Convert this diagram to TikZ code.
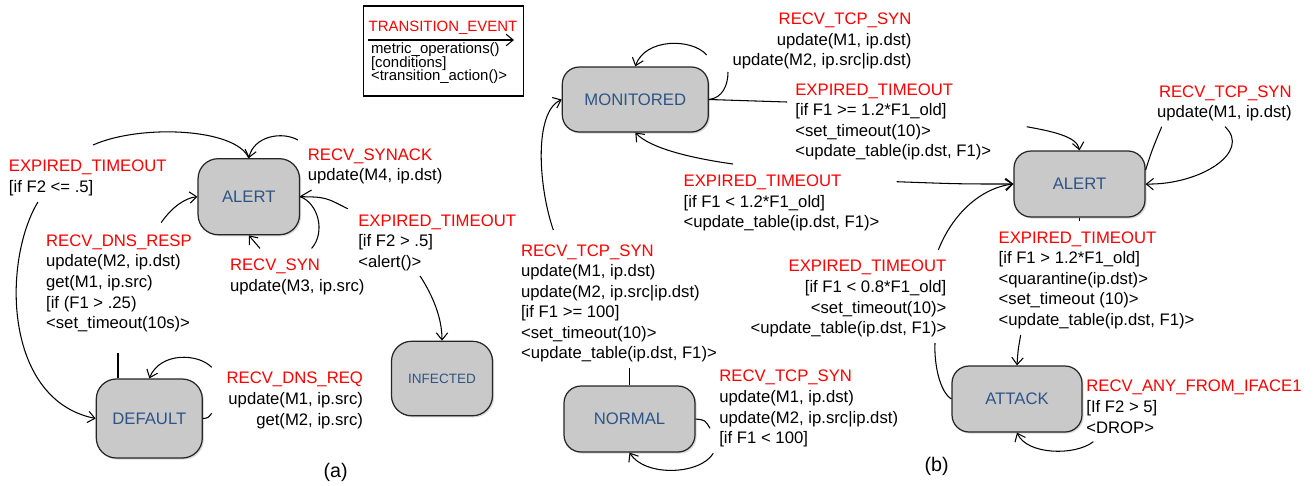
\documentclass[tikz,border=0pt]{standalone}
\usepackage{fontspec}
\setmainfont{Liberation Sans}
\usetikzlibrary{arrows.meta,shadows,calc}
\definecolor{evred}{RGB}{255,0,0}
\definecolor{stateblue}{RGB}{46,84,135}
\definecolor{statefill}{RGB}{201,201,201}
\newcommand{\ev}[1]{\textcolor{evred}{#1}}
\newcommand{\lblfont}{\fontsize{9.5}{11.7}\selectfont}
\newcommand{\lgdfont}{\fontsize{8.5}{7.8}\selectfont\lineskiplimit=-6pt}
\begin{document}
\begin{tikzpicture}[x=0.02cm, y=-0.02cm,
  >={Straight Barb[length=4pt,width=6.5pt]},
  conn/.style={line width=0.6pt},
  state/.style={draw=black!85, line width=0.7pt, fill=statefill, text=stateblue,
    font=\fontsize{9.5}{11}\selectfont, inner sep=0pt,
    drop shadow={shadow xshift=0.9pt, shadow yshift=-0.9pt, opacity=0.3}},
  statea/.style={state, rounded corners=0.4cm, minimum width=2.03cm, minimum height=1.52cm},
  stateb/.style={state, rounded corners=0.34cm, minimum width=2.62cm, minimum height=1.32cm},
  % multi-line labels are placed by the baseline of their last line
  lbl/.style={font=\lblfont, inner sep=0pt, align=left, anchor=base west},
  lblr/.style={font=\lblfont, inner sep=0pt, align=right, anchor=base east},
  lgd/.style={font=\lgdfont, inner sep=0pt, align=left, anchor=base west},
  caption/.style={font=\fontsize{11.2}{13}\selectfont, inner sep=0pt, anchor=base}]

\fill[white, use as bounding box] (0,0) rectangle (1315,485);

% ---------- legend ----------
\node[draw, line width=0.6pt, minimum width=3.2cm, minimum height=1.8cm, inner sep=0pt] (legend) at (443.3,51) {};
\node[lgd] (lgev) at (368.3,31.7) {\ev{TRANSITION\_EVENT}};
\coordinate (lgA) at (368.3,40);
\coordinate (lgB) at (514,40);
\draw[conn,->] (lgA) -- (lgB);
\node[lgd] (lgtxt) at (370.7,80.8) {metric\_operations()\\{}[conditions]\\<transition\_action()>};

% ---------- (a) states ----------
\node[statea] (alertA) at (248.8,196.7) {ALERT};
\node[statea, minimum width=2.12cm, minimum height=1.58cm] (default) at (149.3,418.5) {DEFAULT};
\node[statea, minimum width=2.02cm, minimum height=1.49cm, font=\fontsize{7.7}{9}\selectfont] (infected) at (442,378.5) {INFECTED};

% ---------- (b) states ----------
\node[stateb, minimum width=2.92cm, minimum height=1.3cm] (monitored) at (635.3,99.5) {MONITORED};
\node[stateb] (alertB) at (1079.5,184) {ALERT};
\node[stateb] (normal) at (629.5,419) {NORMAL};
\node[stateb, minimum width=2.6cm] (attack) at (1017,399) {ATTACK};

% ---------- (a) transitions ----------
% RECV_SYNACK self loop
\coordinate (s1) at (311.6,190);
\coordinate (s2) at (297.9,140);
\draw[conn] (alertA.east) -- (s1);
\draw[conn,->] (s2) .. controls (282,131) and (254,136) .. (alertA.north);
% ALERT -> DEFAULT (EXPIRED_TIMEOUT, F2 <= .5)
\coordinate (e1) at (93,145);
\coordinate (e2) at (37.9,202);
\draw[conn] (alertA.north) .. controls (236,128) and (140,124) .. (e1);
\draw[conn,->] (e2) .. controls (2,262) and (4,400) .. (default.west);
% DEFAULT -> ALERT (RECV_DNS_RESP)
\coordinate (d1) at (118,353);
\coordinate (d2) at (161.2,222.6);
\draw[conn] (d1 |- default.north) -- (d1);
\draw[conn,->] (d2) .. controls (172,207) and (185,198) .. (alertA.west);
% RECV_SYN self loop
\coordinate (y1) at (311.6,248.4);
\coordinate (y2) at (260,248.4);
\draw[conn] (alertA.east) .. controls (318,203) and (326,232) .. (y1);
\draw[conn,->] (y2) .. controls (255,243) .. (alertA.south);
% ALERT -> INFECTED
\coordinate (x1) at (347.8,208.8);
\coordinate (x2) at (420.1,276);
\draw[conn] (alertA.east) .. controls (325,197) .. (x1);
\draw[conn,->] (x2) .. controls (433,296) and (442,318) .. (infected.north);
% RECV_DNS_REQ self loop
\coordinate (q1) at (211.7,413.3);
\coordinate (q2) at (211.7,367.3);
\draw[conn] (default.east) .. controls (208,418) .. (q1);
\draw[conn,->] (q2) .. controls (198,353) and (160,352) .. (default.north);

% ---------- (b) transitions ----------
% MONITORED self loop
\coordinate (m1) at (728,72);
\coordinate (m2) at (706.7,55);
\draw[conn] (monitored.east) .. controls (722,98) and (728,86) .. (m1);
\draw[conn,->] (m2) .. controls (692,38) and (645,38) .. (monitored.north);
% MONITORED -> ALERT
\coordinate (n1) at (787,102);
\coordinate (n2) at (1026.7,126.7);
\draw[conn] (monitored.east) -- (n1);
\draw[conn,->] (n2) .. controls (1050,131) and (1077,136) .. (alertB.north);
% ALERT -> MONITORED
\coordinate (p1) at (733,164);
\coordinate (p2) at (896.7,181.7);
\draw[conn,->] (p1) .. controls (690,158) and (650,148) .. (monitored.south);
\draw[conn,->] (p2) .. controls (960,184) .. (alertB.west);
% ATTACK -> ALERT
\coordinate (k1) at (935,343);
\coordinate (k2) at (938.3,250);
\draw[conn] (attack.west) .. controls (940,392) and (934,365) .. (k1);
\draw[conn,->] (k2) .. controls (952,215) and (980,188) .. (alertB.west);
% ALERT -> ATTACK
\coordinate (r1) at (1079.5,221);
\coordinate (r2) at (1020.7,335);
\draw[conn] (alertB.south) -- (r1);
\draw[conn,->] (r2) .. controls (1018,350) .. (attack.north);
% ALERT self loop
\coordinate (t1) at (1161.7,126.7);
\coordinate (t2) at (1225,126.7);
\draw[conn] ($(alertB.east)+(0,-14)$) .. controls (1152,150) .. (t1);
\draw[conn,->] (t2) .. controls (1252,152) and (1200,185) .. (alertB.east);
% NORMAL self loop
\coordinate (u1) at (710,428.3);
\coordinate (u2) at (713.3,453.3);
\draw[conn] (normal.east) .. controls (705,420) .. (u1);
\draw[conn,->] (u2) .. controls (700,475) and (645,477) .. (normal.south);
% NORMAL -> MONITORED
\coordinate (w1) at (629.5,368.3);
\coordinate (w2) at (553.3,230);
\draw[conn] (normal.north) -- (w1);
\draw[conn,->] (w2) .. controls (538,185) and (534,112) .. (monitored.west);
% ATTACK self loop
\coordinate (v1) at (1093.3,441.7);
\draw[conn,->] (v1) .. controls (1075,456) and (1027,455) .. (attack.south);

% ---------- (a) labels ----------
\node[lbl] (l1) at (8.6,192.2) {\ev{EXPIRED\_TIMEOUT}\\{}[if F2 <= .5]};
\node[lbl] (l2) at (307.5,180.6) {\ev{RECV\_SYNACK}\\update(M4, ip.dst)};
\node[lbl] (l3) at (45.8,328.6) {\ev{RECV\_DNS\_RESP}\\update(M2, ip.dst)\\get(M1, ip.src)\\{}[if (F1 > .25)\\<set\_timeout(10s)>};
\node[lbl] (l4) at (229.7,291.4) {\ev{RECV\_SYN}\\update(M3, ip.src)};
\node[lbl] (l5) at (358,267.3) {\ev{EXPIRED\_TIMEOUT}\\{}[if F2 > .5]\\<alert()>};
\node[lblr] (l6) at (363.3,425) {\ev{RECV\_DNS\_REQ}\\update(M1, ip.src)\\get(M2, ip.src)};
\node[caption] (capa) at (335.7,477.3) {(a)};

% ---------- (b) labels ----------
\node[lblr] (l7) at (911.7,65.6) {\ev{RECV\_TCP\_SYN}\\update(M1, ip.dst)\\update(M2, ip.src|ip.dst)};
\node[lbl] (l8) at (795,156.9) {\ev{EXPIRED\_TIMEOUT}\\{}[if F1 >= 1.2*F1\_old]\\<set\_timeout(10)>\\<update\_table(ip.dst, F1)>};
\node[lbl] (l9) at (683.3,227.6) {\ev{EXPIRED\_TIMEOUT}\\{}[if F1 < 1.2*F1\_old]\\<update\_table(ip.dst, F1)>};
\node[lblr] (l10) at (1292,117.9) {\ev{RECV\_TCP\_SYN}\\update(M1, ip.dst)};
\node[lbl] (l11) at (520.7,358.9) {\ev{RECV\_TCP\_SYN}\\update(M1, ip.dst)\\update(M2, ip.src|ip.dst)\\{}[if F1 >= 100]\\<set\_timeout(10)>\\<update\_table(ip.dst, F1)>};
\node[lbl] (l12) at (719,443.6) {\ev{RECV\_TCP\_SYN}\\update(M1, ip.dst)\\update(M2, ip.src|ip.dst)\\{}[if F1 < 100]};
\node[lblr] (l13) at (946.7,333.6) {\ev{EXPIRED\_TIMEOUT}\\{}[if F1 < 0.8*F1\_old]\\<set\_timeout(10)>\\<update\_table(ip.dst, F1)>};
\node[lbl] (l14) at (998.3,325.3) {\ev{EXPIRED\_TIMEOUT}\\{}[if F1 > 1.2*F1\_old]\\<quarantine(ip.dst)>\\<set\_timeout (10)>\\<update\_table(ip.dst, F1)>};
\node[lbl] (l15) at (1086,433) {\ev{RECV\_ANY\_FROM\_IFACE1}\\{}[If F2 > 5]\\<DROP>};
\node[caption] (capb) at (936.7,471) {(b)};
\end{tikzpicture}
\end{document}
